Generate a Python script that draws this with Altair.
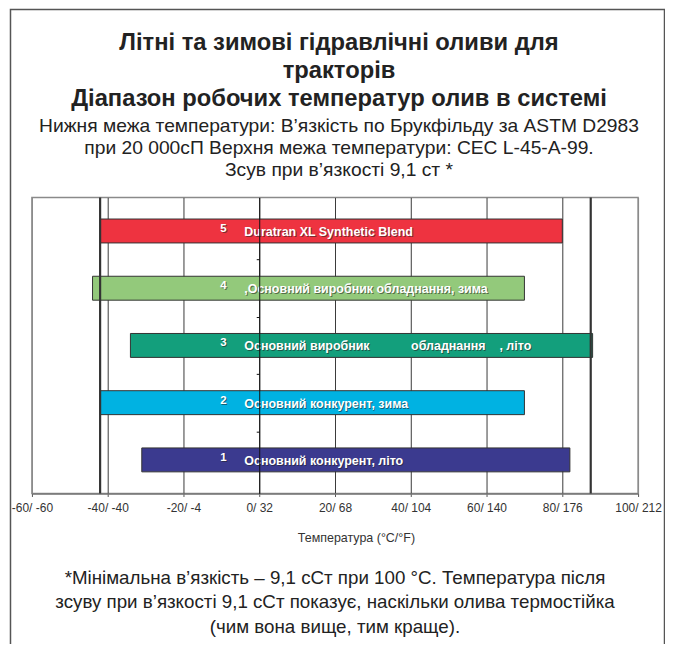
import altair as alt
import pandas as pd

# ---- data ----
rows = [1, 2, 3, 4, 5]
numbers = ["1", "2", "3", "4", "5"]
NB = "\u00a0"
labels = [
    "Основний конкурент, літо",
    "Основний конкурент, зима",
    "Основний виробник" + NB * 12 + "обладнання" + NB * 4 + ", літо",
    ",Основний виробник обладнання, зима",
    "Duratran XL Synthetic Blend",
]
low_c = [-31, -42, -34, -44, -42]
high_c = [82, 70, 88, 70, 80]
colors = ["#3B3A8F", "#00B2E2", "#139F7C", "#93C97B", "#EE3340"]
limit_c = [-42, 87.5]
tick_c = [-60, -40, -20, 0, 20, 40, 60, 80, 100]
tick_f = [-60, -40, -4, 32, 68, 104, 140, 176, 212]
row_ticks = [1.5, 2.5, 3.5, 4.5]

title_lines = [
    "Літні та зимові гідравлічні оливи для",
    "тракторів",
    "Діапазон робочих температур олив в системі",
]
subtitle_lines = [
    "Нижня межа температури: В’язкість по Брукфільду за ASTM D2983",
    "при 20 000сП Верхня межа температури: CEC L-45-A-99.",
    "Зсув при в’язкості 9,1 ст *",
]
footnote_lines = [
    "*Мінімальна в’язкість – 9,1 сСт при 100 °С. Температура після",
    "зсуву при в’язкості 9,1 сСт показує, наскільки олива термостійка",
    "(чим вона вище, тим краще).",
]
x_title = "Температура (°C/°F)"

FONT = "Liberation Sans"

df = pd.DataFrame({"row": rows, "num": numbers, "label": labels,
                   "low": low_c, "high": high_c})
lim_df = pd.DataFrame({"c": limit_c})

label_expr = " : ".join(
    f"datum.value == {c} ? '{c}/ {f}'" for c, f in zip(tick_c, tick_f)
) + " : ''"

xscale = alt.Scale(domain=[-60, 100], nice=False, zero=False)
yscale = alt.Scale(domain=[0.5, 5.5], nice=False, zero=False)

x_axis = alt.Axis(
    values=tick_c, labelExpr=label_expr, grid=True,
    gridColor={"condition": {"test": "datum.value == -60 || datum.value == 100",
                             "value": "#8a8a8a"}, "value": "#3a3a3a"},
    gridWidth=1, domainColor="#777", domainWidth=1.5,
    tickColor="#555", tickSize=3, labelPadding=6,
    labelFlush=False, labelOverlap=False, labelBound=False,
    labelFont=FONT, labelFontSize=12, labelColor="#333",
    title=x_title, titleFont=FONT, titleFontSize=12.5, titleFontWeight="normal",
    titleColor="#333", titleX=325, titleY=48, titleBaseline="alphabetic",
    titleAnchor="start", titleAlign="center",
)
y_axis = alt.Axis(
    values=row_ticks, labels=False, title=None, grid=False,
    domainColor="#111", domainWidth=1, tickColor="#111", tickSize=3,
    offset=-228, zindex=1,
)

bars = alt.Chart(df).mark_bar(size=24, orient="horizontal", stroke="#333",
                              strokeWidth=1).encode(
    x=alt.X("low:Q", scale=xscale, axis=x_axis),
    x2="high:Q",
    y=alt.Y("row:Q", scale=yscale, axis=y_axis),
    color=alt.Color("num:N", scale=alt.Scale(domain=numbers, range=colors),
                    legend=None),
)

limits = alt.Chart(lim_df).mark_rule(color="#333", strokeWidth=2.2).encode(
    x=alt.X("c:Q", scale=xscale)
)

num_shadow = alt.Chart(df).mark_text(
    font=FONT, fontSize=11.5, fontWeight="bold", color="#222", opacity=0.55,
    align="center", baseline="middle", dx=1, dy=-1
).encode(x=alt.value(192), y=alt.Y("row:Q", scale=yscale), text="num:N")
num_text = alt.Chart(df).mark_text(
    font=FONT, fontSize=11.5, fontWeight="bold", color="white",
    align="center", baseline="middle", dy=-2
).encode(x=alt.value(192), y=alt.Y("row:Q", scale=yscale), text="num:N")

lab_shadow = alt.Chart(df).mark_text(
    font=FONT, fontSize=12.5, fontWeight="bold", color="#222", opacity=0.55,
    align="left", baseline="middle", dx=1, dy=2
).encode(x=alt.value(213), y=alt.Y("row:Q", scale=yscale), text="label:N")
lab_text = alt.Chart(df).mark_text(
    font=FONT, fontSize=12.5, fontWeight="bold", color="white",
    align="left", baseline="middle", dy=1
).encode(x=alt.value(213), y=alt.Y("row:Q", scale=yscale), text="label:N")

one = pd.DataFrame({"a": [0]})

title_txt = alt.Chart(pd.DataFrame({"t": ["\n".join(title_lines)]})).mark_text(
    font=FONT, fontSize=23.8, fontWeight="bold", color="#222", align="center",
    baseline="alphabetic", lineBreak="\n", lineHeight=28
).encode(x=alt.value(308), y=alt.value(-147.5), text="t:N")

sub_txt = alt.Chart(pd.DataFrame({"t": ["\n".join(subtitle_lines)]})).mark_text(
    font=FONT, fontSize=19.3, color="#222", align="center",
    baseline="alphabetic", lineBreak="\n", lineHeight=22
).encode(x=alt.value(308), y=alt.value(-65.5), text="t:N")

foot = alt.Chart(pd.DataFrame({"t": ["\n".join(footnote_lines)]})).mark_text(
    font=FONT, fontSize=18.8, color="#222", align="center",
    baseline="alphabetic", lineBreak="\n", lineHeight=24.5
).encode(x=alt.value(304), y=alt.value(387.5), text="t:N")

frame = alt.Chart(one).mark_rect(
    fill=None, stroke="#555", strokeWidth=1.5
).encode(x=alt.value(-21.5), x2=alt.value(634.5),
         y=alt.value(-188.5), y2=alt.value(520))

chart = alt.layer(
    bars, limits, num_shadow, num_text, lab_shadow, lab_text,
    title_txt, sub_txt, foot, frame
).properties(
    width=608, height=297,
    autosize=alt.AutoSizeParams(type="none"),
    padding={"left": 24, "top": 189, "right": 27, "bottom": 150},
).configure_view(stroke="#8a8a8a", strokeWidth=1.5)

chart.save("out.html", embed_options={"renderer": "svg", "actions": False})
